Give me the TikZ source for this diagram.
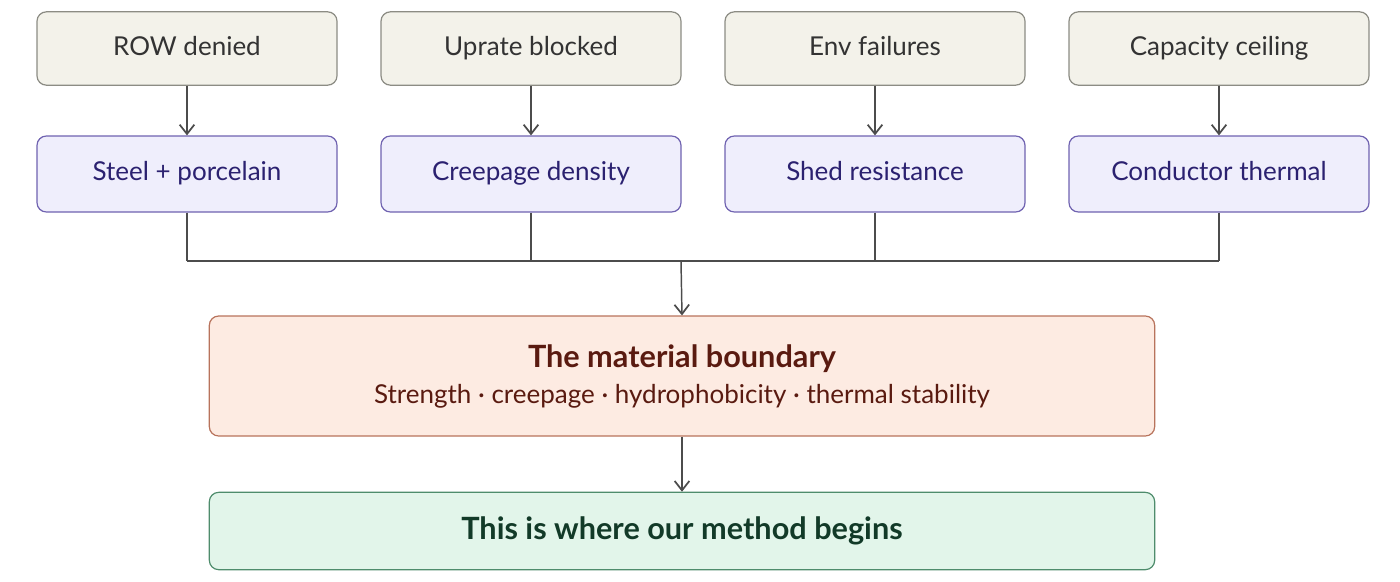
\documentclass[tikz,border=0pt]{standalone}
\usepackage{fontspec}
\setmainfont{Lato}
\usetikzlibrary{arrows.meta}
\definecolor{tf}{HTML}{F3F2EA}\definecolor{tb}{HTML}{8C8C84}
\definecolor{pf}{HTML}{EFEEFC}\definecolor{pb}{HTML}{6F62B0}\definecolor{pt}{HTML}{2B2170}
\definecolor{rf}{HTML}{FDEBE2}\definecolor{rb}{HTML}{B8735C}\definecolor{rt}{HTML}{5A1A10}
\definecolor{gf}{HTML}{E2F5EA}\definecolor{gb}{HTML}{4E8C6C}\definecolor{gt}{HTML}{123A28}
\begin{document}
\begin{tikzpicture}[x=0.75pt,y=-0.75pt,
 box/.style={draw,rounded corners=7pt,line width=0.9pt,minimum width=225pt,minimum height=55pt,text height=14pt,text depth=4pt,font=\fontsize{19.5}{23}\selectfont},
 top/.style={box,fill=tf,draw=tb,text=black!80},
 mid/.style={box,fill=pf,draw=pb,text=pt,minimum height=57pt},
 ln/.style={draw=black!70,line width=1.1pt},
 ar/.style={ln,-{Straight Barb[length=7pt,width=11pt,line width=1.3pt]}}]
\useasboundingbox (0,0) rectangle (1400,582);
\foreach \n/\x/\a/\b in {1/187/ROW denied/Steel + porcelain,2/531/Uprate blocked/Creepage density,3/875/Env failures/Shed resistance,4/1219/Capacity ceiling/Conductor thermal}{
 \node[top] (t\n) at (\x,48.5) {\a};
 \node[mid] (m\n) at (\x,174) {\b};
 \draw[ar] (t\n) -- (m\n);
}
\coordinate (bl) at (187,261); \coordinate (br) at (1219,261); \coordinate (bc) at (681,261);
\foreach \n in {1,2,3,4}{\draw[ln] (m\n.south) -- (m\n.south |- bl);}
\draw[ln] (bl) -- (br);
\node[box,fill=rf,draw=rb,text=rt,minimum width=709pt,minimum height=90pt,text height=,text depth=,align=center] (mb) at (682,376)
 {{\fontsize{23}{28}\selectfont\bfseries The material boundary}\\[4pt]Strength · creepage · hydrophobicity · thermal stability};
\draw[ar] (bc) -- (mb.north);
\node[box,fill=gf,draw=gb,text=gt,minimum width=709pt,minimum height=58pt,text height=17pt,text depth=5pt,font=\fontsize{23}{28}\selectfont\bfseries] (gb) at (682,531) {This is where our method begins};
\draw[ar] (mb) -- (gb);
\end{tikzpicture}
\end{document}
